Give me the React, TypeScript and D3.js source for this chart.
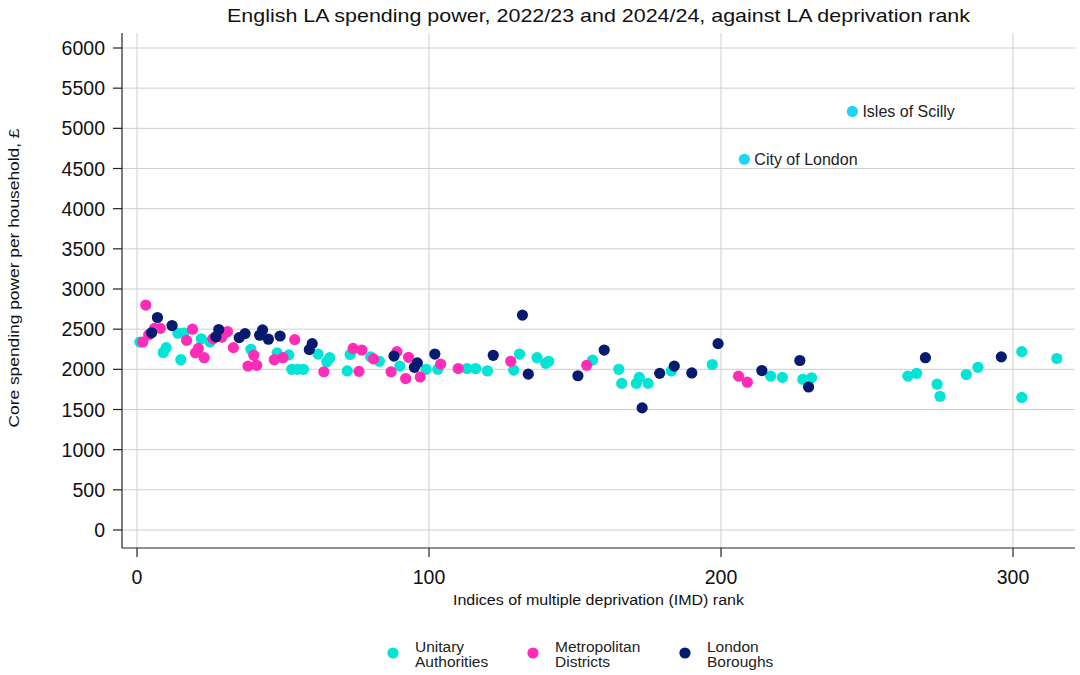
import React from "react";
import * as d3 from "d3";

// [IMD rank, core spending power per household £]
const unitaryAuthorities: [number, number][] = [
  [1, 2340], [9, 2210], [10, 2270], [14, 2450], [16, 2450], [15, 2120],
  [22, 2380], [25, 2340], [39, 2250], [48, 2205], [52, 2180], [53, 2000],
  [55, 2000], [57, 2000], [62, 2190], [66, 2145], [65, 2095], [72, 1980],
  [73, 2185], [80, 2155], [83, 2100], [90, 2040], [99, 2000], [103, 2000],
  [113, 2010], [116, 2010], [120, 1980], [129, 1990], [131, 2190], [137, 2145],
  [141, 2100], [140, 2075], [156, 2115], [165, 2000], [166, 1825], [171, 1825],
  [172, 1900], [175, 1825], [183, 1980], [197, 2060], [217, 1915], [221, 1900],
  [228, 1875], [231, 1895], [264, 1915], [267, 1950], [274, 1815], [275, 1665],
  [284, 1935], [288, 2025], [303, 2220], [303, 1650], [315, 2135],
];

const metropolitanDistricts: [number, number][] = [
  [3, 2800], [6, 2510], [8, 2510], [4, 2430], [2, 2340], [19, 2500],
  [17, 2360], [26, 2380], [29, 2400], [31, 2470], [21, 2260], [20, 2205],
  [23, 2145], [33, 2270], [40, 2175], [38, 2040], [41, 2050], [47, 2120],
  [50, 2145], [54, 2370], [64, 1970], [76, 1975], [74, 2260], [77, 2240],
  [81, 2130], [87, 1970], [89, 2220], [93, 2150], [92, 1885], [97, 1905],
  [104, 2065], [110, 2010], [128, 2100], [154, 2050], [206, 1915], [209, 1840],
];

const londonBoroughs: [number, number][] = [
  [7, 2645], [12, 2545], [5, 2455], [28, 2495], [27, 2405], [35, 2395],
  [37, 2445], [43, 2490], [42, 2425], [45, 2375], [49, 2415], [60, 2320],
  [59, 2245], [88, 2165], [96, 2080], [95, 2025], [102, 2190], [122, 2175],
  [132, 2675], [134, 1940], [151, 1920], [160, 2240], [173, 1520], [179, 1950],
  [184, 2040], [190, 1955], [199, 2320], [214, 1985], [227, 2110], [230, 1780],
  [270, 2145], [296, 2155],
];

const labelledOutliers: { name: string; rank: number; value: number }[] = [
  { name: "Isles of Scilly", rank: 245, value: 5210 },
  { name: "City of London", rank: 208, value: 4615 },
];

const xTicks = [0, 100, 200, 300];
const yTicks = [0, 500, 1000, 1500, 2000, 2500, 3000, 3500, 4000, 4500, 5000, 5500, 6000];

const COLORS = {
  unitary: "#00E5D5",
  metropolitan: "#FF2CB8",
  london: "#061A70",
  outlier: "#1FD5F7",
};

const legendItems = [
  { lines: ["Unitary", "Authorities"], color: COLORS.unitary },
  { lines: ["Metropolitan", "Districts"], color: COLORS.metropolitan },
  { lines: ["London", "Boroughs"], color: COLORS.london },
];

const W = 1080;
const H = 675;
const FONT = "'Liberation Sans', Arial, Helvetica, sans-serif";

export default function App() {
  const left = 122;
  const right = 1075;
  const top = 33;
  const bottom = 548;

  const x = d3.scaleLinear().domain([0, 300]).range([137, 1013]);
  const y = d3.scaleLinear().domain([0, 6000]).range([530, 48]);
  const r = 5.6;

  const series = [
    { data: unitaryAuthorities, color: COLORS.unitary },
    { data: metropolitanDistricts, color: COLORS.metropolitan },
    { data: londonBoroughs, color: COLORS.london },
  ];

  const legendX = [393, 533, 685];

  return (
    <svg
      width={W}
      height={H}
      viewBox={`0 0 ${W} ${H}`}
      style={{ position: "absolute", left: 0, top: 0, background: "#fff" }}
      fontFamily={FONT}
    >
      <rect x={0} y={0} width={W} height={H} fill="#fff" />

      {/* title */}
      <text
        x={(left + right) / 2}
        y={22}
        textAnchor="middle"
        fontSize={19}
        textLength={743}
        lengthAdjust="spacingAndGlyphs"
        fill="#111"
      >
        English LA spending power, 2022/23 and 2024/24, against LA deprivation rank
      </text>

      {/* gridlines */}
      <g stroke="#cfcfcf" strokeWidth={1}>
        {yTicks.map((t) => (
          <line key={`gy${t}`} x1={left} x2={right} y1={y(t)} y2={y(t)} />
        ))}
        {xTicks.map((t) => (
          <line key={`gx${t}`} x1={x(t)} x2={x(t)} y1={top} y2={bottom} />
        ))}
      </g>

      {/* axes */}
      <g stroke="#222" strokeWidth={1.2}>
        <line x1={left} x2={left} y1={top} y2={bottom} />
        <line x1={left} x2={right} y1={bottom} y2={bottom} />
        {yTicks.map((t) => (
          <line key={`ty${t}`} x1={left - 9} x2={left} y1={y(t)} y2={y(t)} />
        ))}
        {xTicks.map((t) => (
          <line key={`tx${t}`} x1={x(t)} x2={x(t)} y1={bottom} y2={bottom + 9} />
        ))}
      </g>

      {/* tick labels */}
      <g fontSize={19.5} fill="#111">
        {yTicks.map((t) => (
          <text key={`ly${t}`} x={left - 17} y={y(t)} dy="0.36em" textAnchor="end">
            {t}
          </text>
        ))}
        {xTicks.map((t) => (
          <text key={`lx${t}`} x={x(t)} y={584} textAnchor="middle">
            {t}
          </text>
        ))}
      </g>

      {/* axis titles */}
      <text
        x={(left + right) / 2}
        y={605}
        textAnchor="middle"
        fontSize={15.5}
        textLength={291}
        lengthAdjust="spacingAndGlyphs"
        fill="#111"
      >
        Indices of multiple deprivation (IMD) rank
      </text>
      <text
        transform={`translate(19, 278) rotate(-90)`}
        textAnchor="middle"
        fontSize={15.5}
        textLength={299}
        lengthAdjust="spacingAndGlyphs"
        fill="#111"
      >
        Core spending power per household, £
      </text>

      {/* points */}
      {series.map((s, i) => (
        <g key={i} fill={s.color}>
          {s.data.map(([rank, value], j) => (
            <circle key={j} cx={x(rank)} cy={y(value)} r={r} />
          ))}
        </g>
      ))}

      {/* labelled outliers */}
      {labelledOutliers.map((o) => (
        <g key={o.name}>
          <circle cx={x(o.rank)} cy={y(o.value)} r={r} fill={COLORS.outlier} />
          <text x={x(o.rank) + 10} y={y(o.value)} dy="0.36em" fontSize={16} fill="#222">
            {o.name}
          </text>
        </g>
      ))}

      {/* legend */}
      {legendItems.map((item, i) => (
        <g key={i}>
          <circle cx={legendX[i]} cy={653} r={5.6} fill={item.color} />
          {item.lines.map((line, k) => (
            <text key={k} x={legendX[i] + 22} y={652 + k * 15} fontSize={15.5} fill="#222">
              {line}
            </text>
          ))}
        </g>
      ))}
    </svg>
  );
}
